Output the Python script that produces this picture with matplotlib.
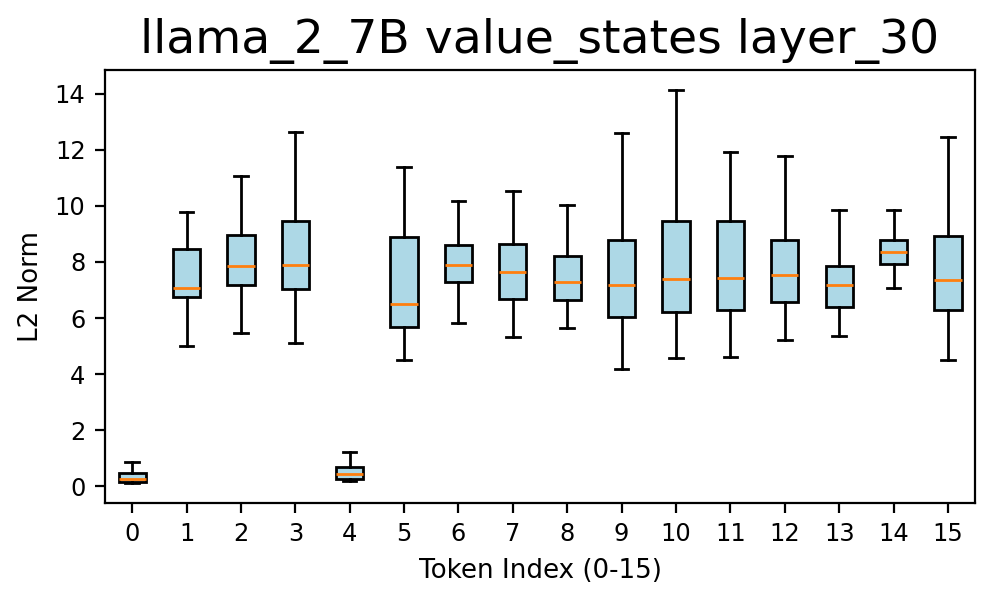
import matplotlib
matplotlib.use('Agg')
import matplotlib.pyplot as plt

tokens = list(range(16))
whislo = [0.11, 5.00, 5.46, 5.12, 0.19, 4.50, 5.83, 5.31, 5.64, 4.18, 4.59, 4.62, 5.21, 5.37, 7.06, 4.50]
q1 = [0.14, 6.74, 7.19, 7.02, 0.26, 5.67, 7.30, 6.67, 6.65, 6.03, 6.21, 6.27, 6.56, 6.40, 7.93, 6.29]
med = [0.26, 7.06, 7.86, 7.90, 0.44, 6.51, 7.90, 7.65, 7.29, 7.18, 7.40, 7.44, 7.55, 7.17, 8.36, 7.37]
q3 = [0.46, 8.47, 8.95, 9.46, 0.70, 8.90, 8.61, 8.64, 8.23, 8.80, 9.46, 9.47, 8.80, 7.86, 8.77, 8.92]
whishi = [0.88, 9.78, 11.05, 12.65, 1.23, 11.37, 10.17, 10.53, 10.04, 12.61, 14.14, 11.91, 11.77, 9.84, 9.85, 12.46]

# build box stats straight from the read-off values
stats = []
for i in range(len(tokens)):
    stats.append({'label': str(tokens[i]), 'whislo': whislo[i], 'q1': q1[i],
                  'med': med[i], 'q3': q3[i], 'whishi': whishi[i], 'fliers': []})

fig = plt.figure(figsize=(4.975, 3.0), dpi=200)
ax = fig.add_axes([0.1055, 0.1617, 0.8745, 0.7216])
bp = ax.bxp(stats, patch_artist=True, widths=0.5, showfliers=False)
for box in bp['boxes']:
    box.set_facecolor('lightblue')

ax.set_title('llama_2_7B value_states layer_30', fontsize=17)
ax.set_xlabel('Token Index (0-15)', fontsize=9.4)
ax.set_ylabel('L2 Norm', fontsize=9.4)
ax.tick_params(labelsize=8.7)

fig.savefig('out.png', dpi=200)
